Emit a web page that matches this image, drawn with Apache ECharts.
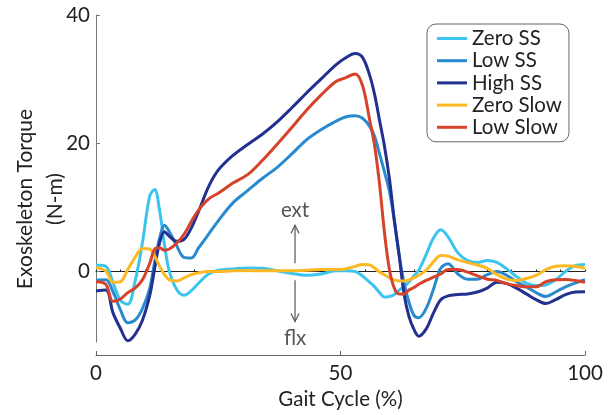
<!DOCTYPE html>
<html>
<head>
<meta charset="utf-8">
<script src="https://cdn.jsdelivr.net/npm/echarts@6/dist/echarts.min.js"></script>
<style>
html,body{margin:0;padding:0;background:#fff;}
#chart{width:610px;height:415px;}
</style>
</head>
<body>
<div id="chart"></div>
<script>
// ---- data ----
const gaitPct = [0,2,3.5,5,6.5,8,9.5,11,12,13,14,15,16.5,18,19.5,21,23,25,28,31,34,37,40,43,46,49,51,53,54.5,56,57,58,59,60,61,62,63,64,65,66,67.5,69,70.5,72,74,76,78,80,82,84,86,88,90,92,94,96,98,100];
const zeroSS   = [1.0,0.8,-1.8,-4.5,-5.1,-1.5,4.5,11.8,12.8,9.5,4.2,0.0,-2.8,-3.7,-3.0,-1.8,-0.4,0.2,0.4,0.55,0.5,0.1,-0.3,-0.6,-0.4,0.1,0.1,0.0,-0.7,-1.7,-2.4,-3.3,-4.0,-3.9,-3.6,-2.9,-2.4,-1.6,-0.7,0.2,2.6,5.2,6.5,5.4,2.9,1.7,1.4,1.7,1.4,0.4,-0.8,-1.8,-2.2,-2.1,-1.3,0.0,0.9,1.1];
const lowSS    = [-1.35,-1.3,-3.2,-6.0,-8.0,-7.6,-5.8,-2.6,1.5,5.2,7.2,6.2,4.0,2.2,2.1,3.7,5.8,7.9,10.7,12.6,14.5,16.2,18.3,20.5,22.1,23.4,24.1,24.3,23.9,22.6,21.0,18.3,15.5,12.5,8.0,2.5,-1.8,-4.8,-6.8,-7.2,-5.8,-2.8,0.5,1.2,-0.4,-1.2,-1.2,-0.5,0.0,-0.6,-1.6,-2.4,-3.3,-3.9,-3.2,-2.4,-1.8,-1.3];
const highSS   = [-3.05,-2.9,-6.5,-8.9,-10.8,-9.8,-7.6,-3.7,0.5,4.5,6.2,5.5,4.7,5.0,6.8,9.4,13.2,15.8,18.1,19.8,21.4,23.3,25.5,27.8,30.0,32.2,33.3,34.0,33.4,30.5,27.5,23.5,19.5,14.5,8.0,2.5,-3.5,-7.0,-9.0,-10.1,-9.0,-6.5,-4.4,-3.8,-3.6,-3.5,-3.2,-2.6,-1.7,-1.9,-2.6,-3.5,-4.4,-5.0,-4.4,-3.6,-3.2,-3.15];
const zeroSlow = [0.6,0.1,-1.7,-1.6,0.3,2.2,3.6,3.5,2.4,0.8,-0.5,-1.3,-1.5,-1.0,-0.5,-0.2,0.0,0.0,0.1,0.15,0.1,0.1,0.1,0.2,0.3,0.3,0.4,0.8,1.1,1.0,0.5,-0.1,-0.5,-1.0,-1.3,-1.5,-1.5,-1.3,-1.0,-0.6,0.2,1.5,2.5,2.4,1.8,1.4,1.0,0.5,-0.5,-1.2,-1.4,-1.1,-0.6,0.3,0.8,0.9,0.8,0.5];
const lowSlow  = [-1.6,-2.0,-4.7,-4.3,-3.3,-2.6,-1.3,1.3,3.5,3.7,3.3,3.5,4.4,5.8,7.8,9.6,11.3,12.2,13.8,15.1,17.3,19.8,22.4,25.1,27.5,29.6,30.2,30.8,29.0,23.5,19.5,13.5,6.0,0.3,-2.6,-3.5,-3.5,-2.9,-2.5,-2.0,-1.4,-0.9,-0.4,0.3,0.3,-0.1,-0.7,-1.2,-1.4,-1.9,-2.2,-2.4,-2.4,-1.6,-1.3,-1.25,-1.4,-1.7];

const seriesNames  = ['Zero SS','Low SS','High SS','Zero Slow','Low Slow'];
const seriesValues = [zeroSS, lowSS, highSS, zeroSlow, lowSlow];
const seriesColors = ['#3CC4EF','#2A8AD0','#22308F','#FDB924','#D6432A'];

const xTicks = [0, 50, 100];
const yTicks = [0, 20, 40];
const xTitle = 'Gait Cycle (%)';
const yTitle = 'Exoskeleton Torque\n(N-m)';

const FONT = 'Lato';
const FS = 20.5;

const chart = echarts.init(document.getElementById('chart'), null, {renderer:'canvas'});

const series = seriesNames.map((name, i) => ({
  name: name,
  type: 'line',
  xAxisIndex: 0,
  yAxisIndex: 0,
  data: gaitPct.map((x, k) => [x, seriesValues[i][k]]),
  showSymbol: false,
  symbol: 'none',
  smooth: 0.35,
  lineStyle: {width: 3, color: seriesColors[i]},
  itemStyle: {color: seriesColors[i]},
  z: 3 + i,
  animation: false
}));

chart.setOption({
  animation: false,
  backgroundColor: '#fff',
  textStyle: {fontFamily: FONT},
  grid: {left: 96, right: 25, top: 15, bottom: 71, containLabel: false},
  legend: {
    orient: 'vertical',
    left: 427,
    top: 24,
    data: seriesNames,
    icon: 'path://M0,0 L30,0 L30,3 L0,3 Z',
    itemWidth: 30,
    itemHeight: 3,
    itemGap: 1.2,
    padding: [4, 7, 4, 10],
    borderColor: '#666',
    borderWidth: 1,
    borderRadius: 9,
    backgroundColor: '#fff',
    textStyle: {fontFamily: FONT, fontSize: FS, color: '#222', lineHeight: 20.5, padding: [0,0,0,0]},
    selectedMode: false
  },
  xAxis: [
    {
      type: 'value', min: 0, max: 100, interval: 50,
      position: 'bottom', offset: 13,
      axisLine: {onZero: false, lineStyle: {color: '#666', width: 1}},
      axisTick: {inside: true, length: 4, lineStyle: {color: '#666'},
                 customValues: xTicks},
      axisLabel: {fontFamily: FONT, fontSize: FS, color: '#222', margin: 8,
                  customValues: xTicks},
      splitLine: {show: false},
      name: xTitle, nameLocation: 'middle', nameGap: 34,
      nameTextStyle: {fontFamily: FONT, fontSize: FS, color: '#222'}
    },
    {
      type: 'value', min: 0, max: 100, interval: 5,
      position: 'bottom',
      axisLine: {onZero: true, onZeroAxisIndex: 0, lineStyle: {color: '#222', width: 1}},
      axisTick: {inside: true, length: 2, lineStyle: {color: '#222'}},
      axisLabel: {show: false},
      splitLine: {show: false}
    }
  ],
  yAxis: [{
    type: 'value', min: -11, max: 40,
    position: 'left',
    axisLine: {show: true, onZero: false, lineStyle: {color: '#777', width: 1}},
    axisTick: {show: true, inside: true, length: 4, lineStyle: {color: '#777'},
               customValues: yTicks},
    axisLabel: {fontFamily: FONT, fontSize: FS, color: '#222', margin: 6,
                customValues: yTicks},
    splitLine: {show: false}
  }],
  series: series
});

// annotations placed through the chart's own scales
function px(x, y) { return chart.convertToPixel({xAxisIndex: 0, yAxisIndex: 0}, [x, y]); }
const arrowX = 40.7;
const extFrom = 1.3, extTo = 7.2, extText = 9.5;
const flxFrom = -1.35, flxTo = -7.8, flxText = -10.4;

function arrow(y0, y1) {
  const a = px(arrowX, y0), b = px(arrowX, y1);
  const dir = b[1] < a[1] ? 1 : -1;
  return [
    {type: 'line', shape: {x1: a[0], y1: a[1], x2: b[0], y2: b[1]},
     style: {stroke: '#555', lineWidth: 1.2}, z: 20},
    {type: 'polyline', shape: {points: [[b[0]-4, b[1] + dir*8], [b[0], b[1]], [b[0]+4, b[1] + dir*8]]},
     style: {stroke: '#555', lineWidth: 1.2, fill: null}, z: 20}
  ];
}
const tExt = px(arrowX, extText), tFlx = px(arrowX, flxText);
chart.setOption({
  graphic: [
    ...arrow(extFrom, extTo),
    ...arrow(flxFrom, flxTo),
    {type: 'text', x: tExt[0], y: tExt[1], z: 20,
     style: {text: 'ext', fontFamily: FONT, fontSize: FS, fill: '#555', align: 'center', verticalAlign: 'middle'}},
    {type: 'text', x: tFlx[0], y: tFlx[1], z: 20,
     style: {text: 'flx', fontFamily: FONT, fontSize: FS, fill: '#555', align: 'center', verticalAlign: 'middle'}},
    {type: 'text', x: 40, y: 199, rotation: Math.PI / 2, z: 20,
     style: {text: yTitle, fontFamily: FONT, fontSize: 21, fill: '#222', align: 'center', verticalAlign: 'middle', lineHeight: 30}}
  ]
});
</script>
</body>
</html>
